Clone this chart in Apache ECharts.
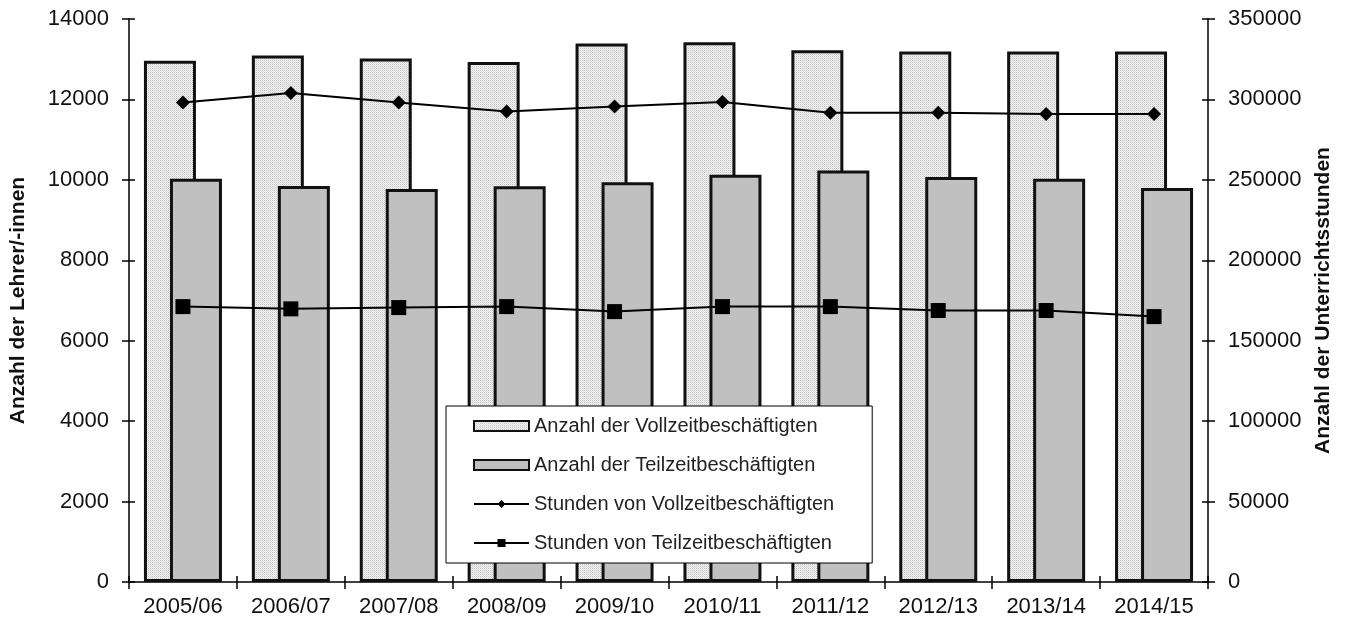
<!DOCTYPE html>
<html>
<head>
<meta charset="utf-8">
<script src="https://cdn.jsdelivr.net/npm/echarts@6/dist/echarts.min.js"></script>
<style>
html,body{margin:0;padding:0;background:#fff;}
#chart{width:1348px;height:622px;}
</style>
</head>
<body>
<div id="chart"></div>
<script>
var categories = ['2005/06','2006/07','2007/08','2008/09','2009/10','2010/11','2011/12','2012/13','2013/14','2014/15'];
var vollzeitAnzahl = [12960, 13090, 13020, 12930, 13390, 13420, 13220, 13190, 13190, 13190];
var teilzeitAnzahl = [10030, 9850, 9770, 9840, 9940, 10130, 10230, 10070, 10030, 9800];
var vollzeitStunden = [298100, 304000, 298100, 292500, 295600, 298400, 291700, 291700, 290900, 290900];
var teilzeitStunden = [171200, 169800, 170600, 171200, 168100, 171200, 171200, 168800, 168800, 165000];
var leftTicks = {min: 0, max: 14000, interval: 2000};
var rightTicks = {min: 0, max: 350000, interval: 50000};

// dotted pattern for the full-time bars
var pc = document.createElement('canvas');
pc.width = 2; pc.height = 2;
var pctx = pc.getContext('2d');
pctx.fillStyle = '#f3f3f3'; pctx.fillRect(0,0,2,2);
pctx.fillStyle = '#c4c4c4'; pctx.fillRect(0,0,1,1);
pctx.fillStyle = '#dedede'; pctx.fillRect(1,1,1,1);

var font = '"Liberation Sans", Arial, sans-serif';
var chart = echarts.init(document.getElementById('chart'), null, {renderer: 'canvas'});
var plain = function (v) { return String(v); };

var axisLineStyle = {color: '#000', width: 1.5};
var option = {
  animation: false,
  backgroundColor: '#fff',
  textStyle: {fontFamily: font},
  grid: {left: 128, right: 140, top: 19, bottom: 40, containLabel: false},
  legend: {
    show: true,
    orient: 'vertical',
    left: 446, top: 406,
    padding: [10, 38, 10, 27],
    itemWidth: 55, itemHeight: 10, itemGap: 19,
    backgroundColor: '#fff',
    borderColor: '#000', borderWidth: 1,
    selectedMode: false,
    textStyle: {fontFamily: font, fontSize: 20, lineHeight: 20, color: '#222'},
    data: [
      {name: 'Anzahl der Vollzeitbeschäftigten', icon: 'rect'},
      {name: 'Anzahl der Teilzeitbeschäftigten', icon: 'rect'},
      {name: 'Stunden von Vollzeitbeschäftigten'},
      {name: 'Stunden von Teilzeitbeschäftigten'}
    ]
  },
  xAxis: [
    {
      type: 'category', data: categories, position: 'bottom',
      axisLine: {show: true, lineStyle: axisLineStyle},
      axisTick: {show: true, alignWithLabel: false, length: 7, lineStyle: {color: '#000', width: 1.5}},
      axisLabel: {fontFamily: font, fontSize: 22, color: '#111', margin: 14},
      splitLine: {show: false}
    },
    {
      type: 'category', data: categories, position: 'bottom', gridIndex: 0,
      axisLine: {show: false},
      axisTick: {show: true, inside: true, length: 6, lineStyle: {color: '#000', width: 1.5}},
      axisLabel: {show: false}, splitLine: {show: false}
    }
  ],
  yAxis: [
    {
      type: 'value', position: 'left', min: leftTicks.min, max: leftTicks.max, interval: leftTicks.interval,
      name: 'Anzahl der Lehrer/-innen', nameLocation: 'middle', nameGap: 100, nameRotate: 90,
      nameTextStyle: {fontFamily: font, fontSize: 21, fontWeight: 'bold', color: '#111'},
      axisLine: {show: true, lineStyle: axisLineStyle},
      axisTick: {show: true, length: 7, lineStyle: {color: '#000', width: 1.5}},
      axisLabel: {fontFamily: font, fontSize: 22, color: '#111', margin: 20, formatter: plain},
      splitLine: {show: false}
    },
    {
      type: 'value', position: 'right', min: rightTicks.min, max: rightTicks.max, interval: rightTicks.interval,
      name: 'Anzahl der Unterrichtsstunden', nameLocation: 'middle', nameGap: 96, nameRotate: 90,
      nameTextStyle: {fontFamily: font, fontSize: 21, fontWeight: 'bold', color: '#111'},
      axisLine: {show: true, lineStyle: axisLineStyle},
      axisTick: {show: true, length: 7, lineStyle: {color: '#000', width: 1.5}},
      axisLabel: {fontFamily: font, fontSize: 22, color: '#111', margin: 20, formatter: plain},
      splitLine: {show: false}
    },
    {
      type: 'value', position: 'left', min: leftTicks.min, max: leftTicks.max, interval: leftTicks.interval,
      axisLine: {show: false},
      axisTick: {show: true, inside: true, length: 6, lineStyle: {color: '#000', width: 1.5}},
      axisLabel: {show: false}, splitLine: {show: false}
    },
    {
      type: 'value', position: 'right', min: rightTicks.min, max: rightTicks.max, interval: rightTicks.interval,
      axisLine: {show: false},
      axisTick: {show: true, inside: true, length: 6, lineStyle: {color: '#000', width: 1.5}},
      axisLabel: {show: false}, splitLine: {show: false}
    }
  ],
  series: [
    {
      name: 'Anzahl der Vollzeitbeschäftigten', type: 'bar', xAxisIndex: 0, yAxisIndex: 0,
      data: vollzeitAnzahl, barWidth: 52, barGap: '-50%',
      itemStyle: {color: {image: pc, repeat: 'repeat'}, borderColor: '#111', borderWidth: 3}
    },
    {
      name: 'Anzahl der Teilzeitbeschäftigten', type: 'bar', xAxisIndex: 0, yAxisIndex: 0,
      data: teilzeitAnzahl, barWidth: 52, barGap: '-50%',
      itemStyle: {color: '#c0c0c0', borderColor: '#111', borderWidth: 3}
    },
    {
      name: 'Stunden von Vollzeitbeschäftigten', type: 'line', xAxisIndex: 0, yAxisIndex: 1,
      data: vollzeitStunden, symbol: 'diamond', symbolSize: 14,
      lineStyle: {color: '#000', width: 2}, itemStyle: {color: '#000'}, z: 5
    },
    {
      name: 'Stunden von Teilzeitbeschäftigten', type: 'line', xAxisIndex: 0, yAxisIndex: 1,
      data: teilzeitStunden, symbol: 'rect', symbolSize: 15,
      lineStyle: {color: '#000', width: 2}, itemStyle: {color: '#000'}, z: 5
    }
  ]
};
chart.setOption(option);
</script>
</body>
</html>
